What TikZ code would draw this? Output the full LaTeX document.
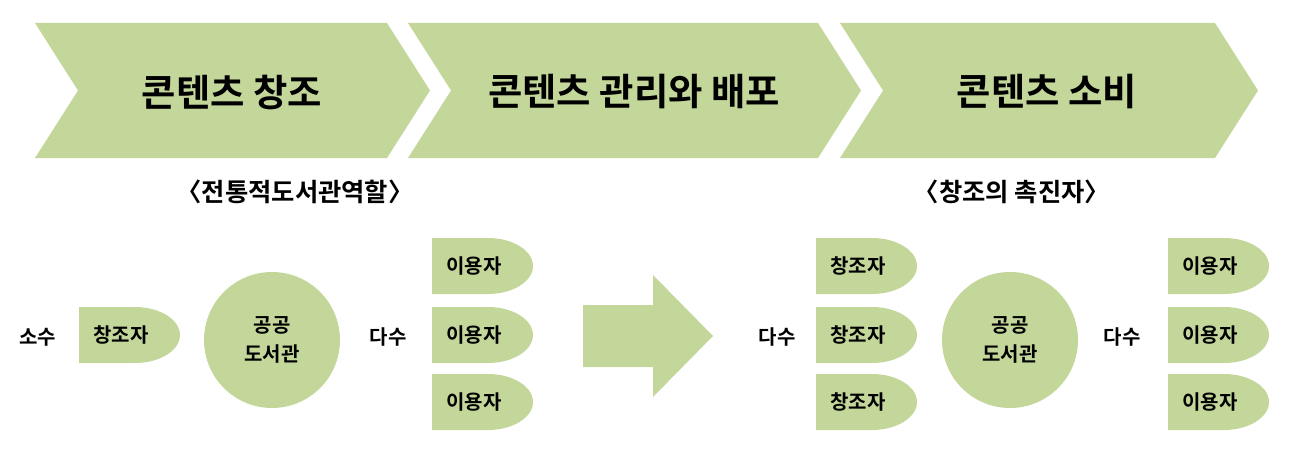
\documentclass[tikz,border=0pt]{standalone}
\usepackage{fontspec}
\setmainfont{Noto Sans CJK KR}[BoldFont={Noto Sans CJK KR Bold}]
\definecolor{leaf}{RGB}{196,215,155}
\tikzset{
  title/.style={font=\bfseries\fontsize{28}{32}\selectfont},
  subtitle/.style={font=\bfseries\fontsize{19}{22}\selectfont},
  word/.style={font=\bfseries\fontsize{15}{21.5}\selectfont,align=center,inner sep=0pt},
  hall/.style={word,circle,fill=leaf,minimum size=102pt}
}
\begin{document}
\begin{tikzpicture}[x=0.75pt,y=0.75pt]
\useasboundingbox(0,0)rectangle(1296,-467);
% chevrons along the top
\foreach \a/\b in {35/387,408/818,840/1215}
  \fill[leaf](\a,-23)--(\b,-23)--(\b+43,-90.5)--(\b,-158)--(\a,-158)--(\a+43,-90.5)--cycle;
\node[title](make)at(232,-92){콘텐츠 창조};
\node[title](share)at(634,-92){콘텐츠 관리와 배포};
\node[title](use)at(1047,-92){콘텐츠 소비};
\node[subtitle](old)at(295,-192){〈전통적도서관역할〉};
\node[subtitle](new)at(1012,-192){〈창조의 촉진자〉};
% half-round boxes
\foreach \n/\x/\y/\t in {c0/79/335/창조자,
    u1/432/266/이용자,u2/432/335/이용자,u3/432/402/이용자,
    c1/816/266/창조자,c2/816/335/창조자,c3/816/402/창조자,
    v1/1168/266/이용자,v2/1168/335/이용자,v3/1168/402/이용자}{
  \fill[leaf](\x,-\y+28)--++(56,0)arc[start angle=90,end angle=-90,x radius=45,y radius=28]--++(-56,0)--cycle;
  \node[word](\n)at(\x+42,-\y){\t};
}
\node[hall](lib1)at(272,-340){공공\\도서관};
\node[hall](lib2)at(1010,-340){공공\\도서관};
\node[word](few)at(38,-337){소수};
\node[word](many1)at(388,-337){다수};
\node[word](many2)at(777,-337){다수};
\node[word](many3)at(1122,-337){다수};
% big arrow in the middle
\fill[leaf](583,-305)--(653,-305)--(653,-275)--(713,-336)--(653,-397)--(653,-367)--(583,-367)--cycle;
\end{tikzpicture}
\end{document}
